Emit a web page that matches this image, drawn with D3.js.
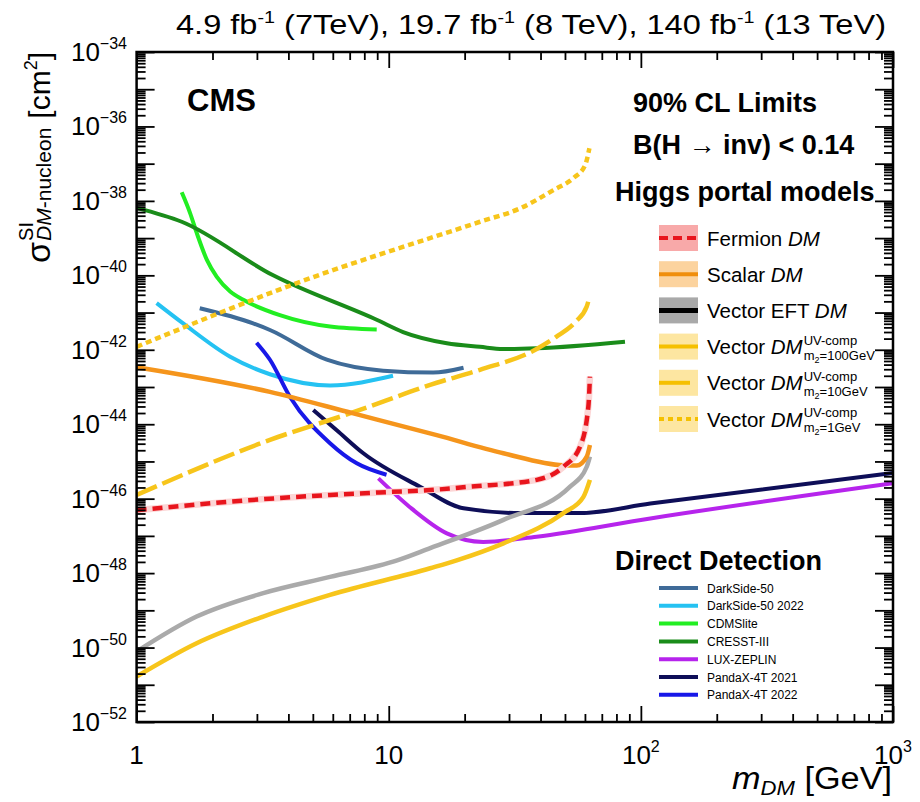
<!DOCTYPE html>
<html>
<head>
<meta charset="utf-8">
<script src="https://d3js.org/d3.v7.min.js"></script>
<style>
  body { margin: 0; background: #fff; }
  text { font-family: "Liberation Sans", Arial, Helvetica, sans-serif; fill: #000; }
</style>
</head>
<body>
<svg id="chart" width="920" height="802"></svg>
<script>
// ---- data: [m_DM (GeV), sigma_SI (cm^2)] ----
// Higgs portal limits
const fermionDM   = [[1,4.9e-47],[2.35,8.3e-47],[5.85,1.26e-46],[9.8,1.5e-46],[14.6,1.7e-46],[21,2.1e-46],[38.6,3.2e-46],[49.3,7.2e-46],[57.4,2.5e-45],[61.9,2.95e-44],[62.8,1.9e-43]];
const scalarDM    = [[1,3.4e-43],[3.38,7.4e-44],[7.24,1.95e-44],[15.5,5.1e-45],[28.5,1.66e-45],[49.3,7.9e-46],[55.7,7.8e-46],[61,1.35e-45],[62.8,2.75e-45]];
const vectorEFT   = [[1,7.8e-51],[1.73,6.8e-50],[3.18,2.9e-49],[5.85,7.9e-49],[10.8,2.2e-48],[14.6,4.7e-48],[28.5,2.7e-47],[52.4,2.1e-46],[61,7.2e-46],[62.8,1.35e-45]];
const vectorUV100 = [[1,1.66e-51],[1.73,1.3e-50],[3.18,6.8e-50],[5.85,2.6e-49],[14.6,1.35e-48],[18.6,2.2e-48],[28.5,6.3e-48],[49.3,4.1e-47],[59.1,1.1e-46],[62.8,3.2e-46]];
const vectorUV10  = [[1,1.26e-46],[3.38,3.8e-45],[7.24,2.1e-44],[15.5,1.3e-43],[23,2.9e-43],[38.6,1.05e-42],[46,2.2e-42],[55,5.6e-42],[61,1.45e-41],[62.5,2.6e-41]];
const vectorUV1   = [[1,1.2e-42],[4.32,6.2e-41],[23,2.75e-39],[33.2,6.3e-39],[45,1.95e-38],[54,4.1e-38],[60.1,9.1e-38],[62.5,2.6e-37]];

// direct detection limits
const darkSide50     = [[1.78,1.3e-41],[2.9,5.1e-42],[3.38,3.4e-42],[5.68,5.4e-43],[9.5,2.75e-43],[15,2.45e-43],[19.8,3.3e-43]];
const darkSide50y22  = [[1.2,1.8e-41],[1.53,5.1e-42],[2.35,6.5e-43],[3.38,2.2e-43],[5.85,1.1e-43],[10.4,2.0e-43]];
const cdmsLite       = [[1.51,1.7e-38],[1.63,4.7e-39],[1.73,1.4e-39],[1.9,2.6e-40],[2.08,9.1e-41],[2.35,3.7e-41],[2.65,2.2e-41],[3.7,8.5e-42],[5.85,4.2e-42],[8.96,3.5e-42]];
const cresstIII      = [[1,6.5e-39],[1.51,2.75e-39],[3.48,1.0e-40],[9,6.3e-42],[11.4,3.0e-42],[17,1.5e-42],[23,1.2e-42],[28.4,1.05e-42],[38.7,1.1e-42],[86.5,1.65e-42]];
const luxZeplin      = [[9.1,3.5e-46],[12.1,6.0e-47],[17,1.17e-47],[23.7,6.9e-48],[38.6,9.5e-48],[109,2.95e-47],[1000,2.6e-46]];
const pandaX2021     = [[5.02,2.4e-44],[6.22,6.9e-45],[7.93,1.66e-45],[13.3,2.1e-46],[19.8,5.5e-47],[33.2,4.1e-47],[57.4,4.1e-47],[109,7.4e-47],[1000,4.9e-46]];
const pandaX2022     = [[2.99,1.55e-42],[3.38,5.4e-43],[4.06,5.4e-44],[5.85,3.1e-45],[7.47,8.9e-46],[9.8,4.4e-46]];

const ddNames = ["DarkSide-50", "DarkSide-50 2022", "CDMSlite", "CRESST-III", "LUX-ZEPLIN", "PandaX-4T 2021", "PandaX-4T 2022"];
const higgsNames = ["Fermion", "Scalar", "Vector EFT", "Vector", "Vector", "Vector"];
const uvMassLabels = ["", "", "", "100GeV", "10GeV", "1GeV"];
const xTickValues = [1, 10, 100, 1000];
const xTickSup = ["", "", "2", "3"];
const yLabelExps = [-52, -50, -48, -46, -44, -42, -40, -38, -36, -34];

// ---- layout ----
const M = {left: 136.6, right: 893, top: 52, bottom: 722};
const svg = d3.select("#chart");

const x = d3.scaleLog().domain([1, 1000]).range([M.left, M.right]);
const y = d3.scaleLog().domain([1e-52, 1e-34]).range([M.bottom, M.top]);

svg.append("defs").append("clipPath").attr("id", "clip")
  .append("rect").attr("x", M.left).attr("y", M.top)
  .attr("width", M.right - M.left).attr("height", M.bottom - M.top);

const plot = svg.append("g").attr("clip-path", "url(#clip)");
const line = d3.line().x(d => x(d[0])).y(d => y(d[1])).curve(d3.curveMonotoneX);

// direct detection curves
const ddData = [darkSide50, darkSide50y22, cdmsLite, cresstIII, luxZeplin, pandaX2021, pandaX2022];
const ddColors = ["#3f6b98", "#25c2f2", "#22ee22", "#1a8c1a", "#b624ec", "#0e0e58", "#1818e8"];

ddData.forEach((d, i) => {
  plot.append("path").datum(d).attr("d", line)
    .attr("fill", "none").attr("stroke", ddColors[i]).attr("stroke-width", 4);
});

// higgs portal curves
const higgsSeries = [
  {data: vectorEFT,   color: "#aaaaaa", dash: null},
  {data: vectorUV100, color: "#f7c51b", dash: null},
  {data: vectorUV10,  color: "#f7c51b", dash: "22,6"},
  {data: vectorUV1,   color: "#f7c51b", dash: "6,4"},
  {data: scalarDM,    color: "#f5951c", dash: null},
  {data: fermionDM,   color: "#e8151d", dash: "10,6", halo: "#fcd6d6"}
];

higgsSeries.forEach(s => {
  if (s.halo) {
    plot.append("path").datum(s.data).attr("d", line)
      .attr("fill", "none").attr("stroke", s.halo).attr("stroke-width", 6.5);
  }
  plot.append("path").datum(s.data).attr("d", line)
    .attr("fill", "none").attr("stroke", s.color).attr("stroke-width", 4.5)
    .attr("stroke-dasharray", s.dash);
});

// ---- axes (ticks inside, on all four sides) ----
const yMajor = d3.range(-52, -33).map(e => Math.pow(10, e));
const yMinor = [];
d3.range(-52, -34).forEach(e => { for (let m = 2; m < 10; m++) yMinor.push(m * Math.pow(10, e)); });
const xMinor = [];
[0, 1, 2].forEach(e => { for (let m = 2; m < 10; m++) xMinor.push(m * Math.pow(10, e)); });

function ticks(axis, tx, ty, vals, size) {
  svg.append("g").attr("transform", `translate(${tx},${ty})`)
    .call(axis.tickValues(vals).tickSize(size).tickFormat(""))
    .call(g => g.select(".domain").remove())
    .selectAll("line").attr("stroke", "#000").attr("stroke-width", 1.8);
}
ticks(d3.axisLeft(y), M.left, 0, yMajor, -18);
ticks(d3.axisLeft(y), M.left, 0, yMinor, -9);
ticks(d3.axisRight(y), M.right, 0, yMajor, -18);
ticks(d3.axisRight(y), M.right, 0, yMinor, -9);
ticks(d3.axisBottom(x), 0, M.bottom, xTickValues, -16);
ticks(d3.axisBottom(x), 0, M.bottom, xMinor, -8);
ticks(d3.axisTop(x), 0, M.top, xTickValues, -16);
ticks(d3.axisTop(x), 0, M.top, xMinor, -8);

svg.append("rect").attr("x", M.left).attr("y", M.top)
  .attr("width", M.right - M.left).attr("height", M.bottom - M.top)
  .attr("fill", "none").attr("stroke", "#000").attr("stroke-width", 2.5);

// y tick labels
yLabelExps.forEach(e => {
  const t = svg.append("text").attr("x", 127).attr("y", y(Math.pow(10, e)) + 9)
    .attr("text-anchor", "end").style("font-size", "26px");
  t.append("tspan").text("10");
  t.append("tspan").attr("dy", -12).style("font-size", "16px").text("\u2212" + Math.abs(e));
});

// x tick labels
xTickValues.forEach((v, i) => {
  const t = svg.append("text").attr("x", x(v)).attr("y", 764)
    .attr("text-anchor", "middle").style("font-size", "26px");
  t.append("tspan").text(v === 1 ? "1" : "10");
  if (xTickSup[i]) t.append("tspan").attr("dy", -12).style("font-size", "16px").text(xTickSup[i]);
});

// x title
const xt = svg.append("text").attr("x", 732).attr("y", 789)
  .attr("textLength", 160).attr("lengthAdjust", "spacingAndGlyphs").style("font-size", "31px");
xt.append("tspan").style("font-style", "italic").text("m");
xt.append("tspan").attr("dy", 6).style("font-style", "italic").style("font-size", "20px").text("DM");
xt.append("tspan").attr("dy", -6).text("\u00a0[GeV]");

// y title, built piece by piece in a rotated frame
const ytOuter = svg.append("g").attr("transform", "translate(50,52) rotate(-90)");
const yt = ytOuter.append("g");
let cur = 0;
function piece(txt, size, dy, italic) {
  const t = yt.append("text").attr("x", cur).attr("y", dy).style("font-size", size + "px");
  if (italic) t.style("font-style", "italic");
  t.text(txt);
  return t;
}
cur += piece("\u03c3", 34, 0).node().getComputedTextLength() + 1;
const sup = piece("SI", 20, -17);
const sub = yt.append("text").attr("x", cur).attr("y", 1).style("font-size", "21px");
sub.append("tspan").style("font-style", "italic").text("DM");
sub.append("tspan").text("-nucleon");
cur += Math.max(sup.node().getComputedTextLength(), sub.node().getComputedTextLength()) + 9;
cur += piece("[cm", 30, 0).node().getComputedTextLength();
cur += piece("2", 18, -13).node().getComputedTextLength();
cur += piece("]", 30, 0).node().getComputedTextLength();
yt.attr("transform", `translate(${-cur},0)`);

// top luminosity label
const lumi = svg.append("text").attr("x", 176).attr("y", 34)
  .attr("textLength", 710).attr("lengthAdjust", "spacingAndGlyphs").style("font-size", "28px");
[["4.9 fb", "-1", "\u00a0(7TeV), "], ["19.7 fb", "-1", "\u00a0(8 TeV), "], ["140 fb", "-1", "\u00a0(13 TeV)"]].forEach(p => {
  lumi.append("tspan").attr("dy", 0).text(p[0]);
  lumi.append("tspan").attr("dy", -11).style("font-size", "17px").text(p[1]);
  lumi.append("tspan").attr("dy", 11).text(p[2]);
});

// headers
svg.append("text").attr("x", 187).attr("y", 111).style("font-size", "31px").style("font-weight", "bold").text("CMS");
svg.append("text").attr("x", 633).attr("y", 112).style("font-size", "27px").style("font-weight", "bold").text("90% CL Limits");
svg.append("text").attr("x", 633).attr("y", 154).style("font-size", "27px").style("font-weight", "bold").text("B(H \u2192 inv) < 0.14");
svg.append("text").attr("x", 615).attr("y", 201).style("font-size", "27px").style("font-weight", "bold").text("Higgs portal models");
svg.append("text").attr("x", 615).attr("y", 570).style("font-size", "27px").style("font-weight", "bold").text("Direct Detection");

// higgs portal legend
const bandColors = ["#f8a9a9", "#fcd39e", "#a9a9a9", "#fde6a1", "#fde6a1", "#fde6a1"];
const lineColors = ["#e8151d", "#f08e0c", "#000000", "#f5c000", "#f5c000", "#f5c000"];
const lineDash = ["9,5", null, null, null, null, "5,4"];
const lineEnd = [698, 698, 698, 698, 690, 698];
higgsNames.forEach((name, i) => {
  const cy = 238 + i * 36.2;
  svg.append("rect").attr("x", 659).attr("y", cy - 13).attr("width", 39).attr("height", 26).attr("fill", bandColors[i]);
  svg.append("line").attr("x1", 659).attr("x2", lineEnd[i]).attr("y1", cy).attr("y2", cy)
    .attr("stroke", lineColors[i]).attr("stroke-width", i === 2 ? 5 : 4).attr("stroke-dasharray", lineDash[i]);
  const t = svg.append("text").attr("x", 707).attr("y", cy + 7.5).style("font-size", "20.5px");
  t.append("tspan").text(name + " ");
  t.append("tspan").style("font-style", "italic").text("DM");
  if (uvMassLabels[i]) {
    const ex = 707 + t.node().getComputedTextLength() + 1;
    svg.append("text").attr("x", ex).attr("y", cy - 2).style("font-size", "13px").text("UV-comp");
    const s = svg.append("text").attr("x", ex).attr("y", cy + 13).style("font-size", "13px");
    s.append("tspan").text("m");
    s.append("tspan").attr("dy", 3).style("font-size", "9px").text("2");
    s.append("tspan").attr("dy", -3).text("=" + uvMassLabels[i]);
  }
});

// direct detection legend
ddNames.forEach((name, i) => {
  const cy = 588 + i * 17.8;
  svg.append("line").attr("x1", 659).attr("x2", 698).attr("y1", cy).attr("y2", cy)
    .attr("stroke", ddColors[i]).attr("stroke-width", 4);
  svg.append("text").attr("x", 707).attr("y", cy + 4.5).style("font-size", "12px").text(name);
});
</script>
</body>
</html>
